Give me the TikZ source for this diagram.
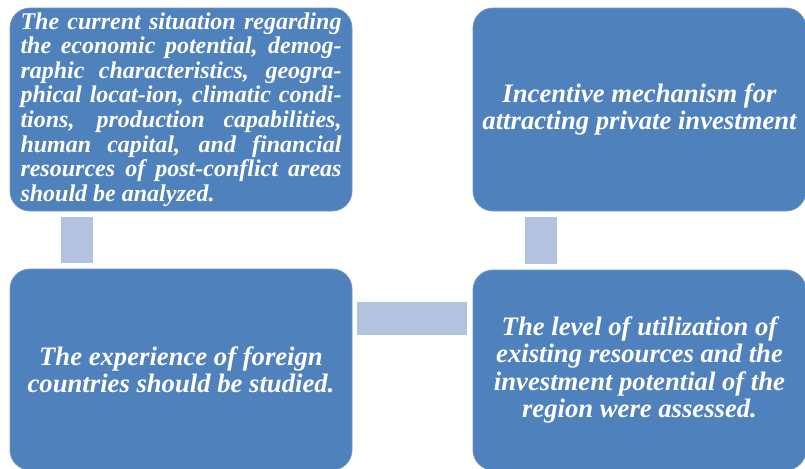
\documentclass[tikz,border=0pt]{standalone}
\usepackage{fontspec}
\setmainfont{Liberation Serif}
\usetikzlibrary{positioning}
\definecolor{boxblue}{RGB}{79,129,189}
\definecolor{boxedge}{RGB}{110,150,200}
\definecolor{linkblue}{RGB}{179,194,222}
\tikzset{
  % Kästen
  cell/.style={rectangle, rounded corners=15pt, fill=boxblue, draw=boxedge, line width=0.6pt,
    text=white, font=\fontsize{20}{20.4}\selectfont\bfseries\itshape, align=center, inner sep=0pt},
  % Verbindungsbalken
  link/.style={fill=linkblue},
}
% eine Zeile im Blocksatz
\newcommand{\jline}[1]{\makebox[240.75pt][s]{#1}\\}

\begin{document}
\begin{tikzpicture}[x=0.75pt, y=-0.75pt]
  \useasboundingbox (0,0) rectangle (805,468);
  % ---------- Kästen ----------
  \node[cell, minimum width=256.5pt, minimum height=152.25pt, align=left,
        font=\fontsize{18}{18.45}\selectfont\bfseries\itshape] (analyse) at (181,109.5) {%
    \jline{The current situation regarding}
    \jline{the economic potential, demog-}
    \jline{raphic characteristics, geogra-}
    \jline{phical locat-ion, climatic condi-}
    \jline{tions, production capabilities,}
    \jline{human capital, and financial}
    \jline{resources of post-conflict areas}
    should be analyzed.};
  \node[cell, minimum width=249.75pt, minimum height=152.25pt] (incentive) at (639.5,109.5)
    {Incentive mechanism for\\attracting private investment};
  \node[cell, minimum width=256.5pt, minimum height=150.75pt] (foreign) at (181,369.5)
    {The experience of foreign\\countries should be studied.};
  \node[cell, minimum width=249.75pt, minimum height=150pt] (assess) at (639.5,370)
    {The level of utilization of\\existing resources and the\\investment potential of the\\region were assessed.};
  % ---------- Balken ----------
  \fill[link] ([shift={(51,6)}]analyse.south west) rectangle ([shift={(83,-6)}]foreign.north west);
  \fill[link] ([shift={(52,6)}]incentive.south west) rectangle ([shift={(84,-6)}]assess.north west);
  \fill[link] ([shift={(5,33)}]foreign.north east) rectangle ([shift={(-6,65)}]assess.north west);
\end{tikzpicture}
\end{document}
